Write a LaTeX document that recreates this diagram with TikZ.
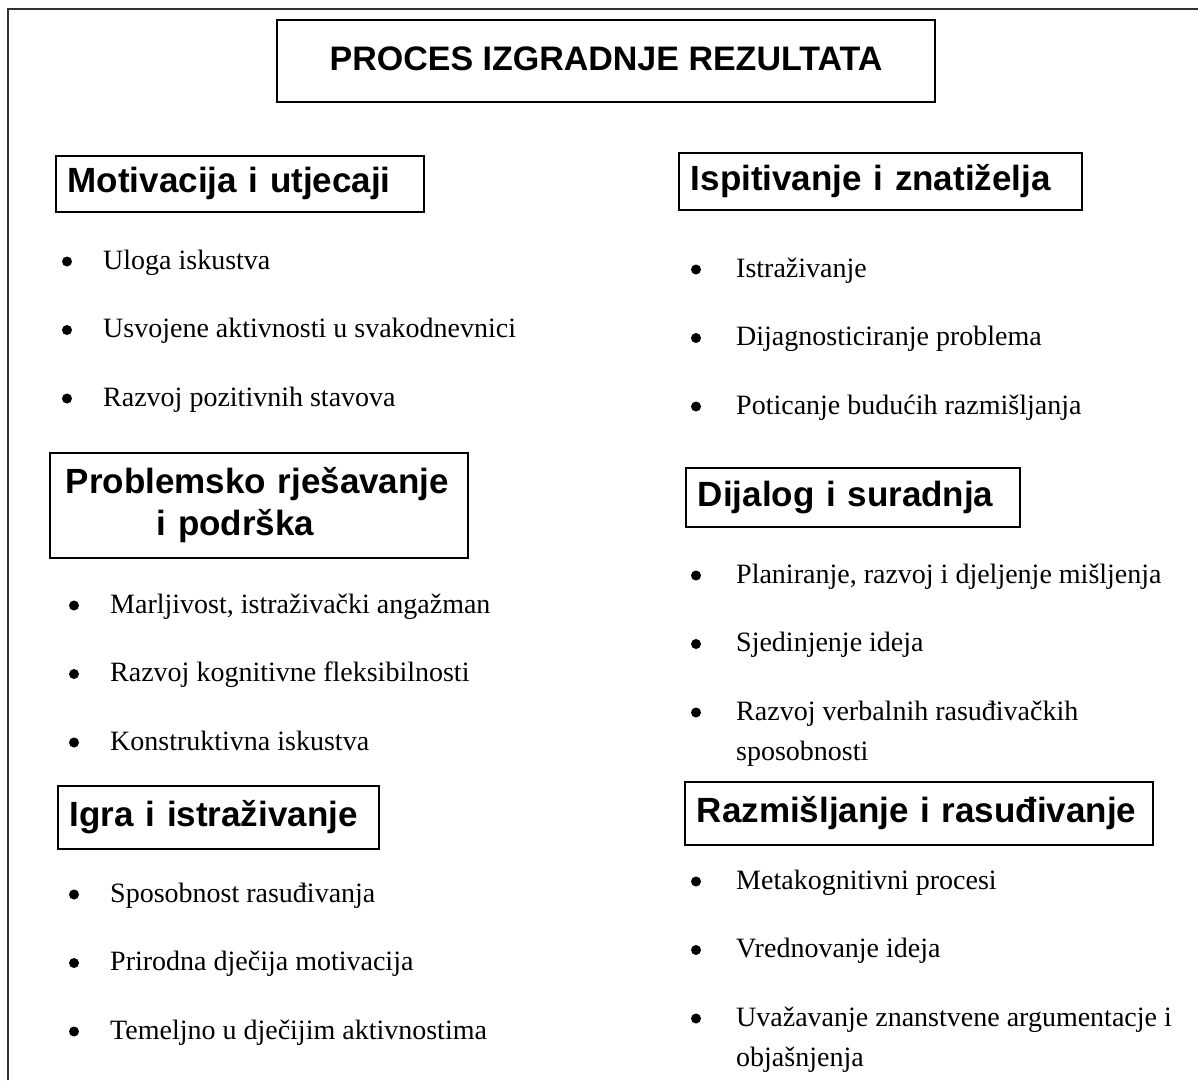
\documentclass[tikz,border=0pt]{standalone}
\usepackage{fontspec}
\setmainfont{Liberation Serif}
\setsansfont{Liberation Sans}
\usetikzlibrary{positioning}

% two lines with the baseline on the first one
\newcommand{\twolines}[2]{\vtop{\hbox{#1}\hbox{#2}}}

\tikzset{
  head/.style={draw,line width=1.6pt,anchor=north west,inner xsep=12pt,inner ysep=0pt,
    font=\sffamily\bfseries\fontsize{35}{42}\selectfont,align=left},
  onehead/.style={head,text height=25pt,text depth=7pt},
  item/.style={inner sep=0pt,font=\fontsize{28}{40}\selectfont},
  dot/.style={fill=black},
}

\begin{document}
\begin{tikzpicture}[x=1pt,y=-1pt,node distance=68.5pt]
  \useasboundingbox (0,0) rectangle (1198,1080);
  % frame, cut at the right and at the bottom
  \draw[line width=2pt,black!80] (8,1080) -- (8,9) -- (1198,9);

  \node[onehead,anchor=center,align=center,minimum width=658pt,minimum height=82pt,
    font=\sffamily\bfseries\fontsize{34}{40}\selectfont] (title) at (606,61) {PROCES IZGRADNJE REZULTATA};

  % left column
  \node[onehead,text width=344pt,minimum height=56pt] (mot) at (55,155) {Motivacija i utjecaji};
  \node[item,anchor=base west] (m1) at (103,269) {Uloga iskustva};
  \node[item,below=of m1.base west,anchor=base west] (m2) {Usvojene aktivnosti u svakodnevnici};
  \node[item,below=of m2.base west,anchor=base west] (m3) {Razvoj pozitivnih stavova};

  \node[head,inner xsep=16pt,text width=386pt,minimum height=105pt] (prob) at (49,452) {Problemsko rješavanje\\\hspace*{91pt}i podrška};
  \node[item,anchor=base west] (p1) at (110,613) {Marljivost, istraživački angažman};
  \node[item,below=of p1.base west,anchor=base west] (p2) {Razvoj kognitivne fleksibilnosti};
  \node[item,below=of p2.base west,anchor=base west] (p3) {Konstruktivna iskustva};

  \node[onehead,text width=297pt,minimum height=63pt] (igra) at (57,785) {Igra i istraživanje};
  \node[item,anchor=base west] (g1) at (110,902) {Sposobnost rasuđivanja};
  \node[item,below=of g1.base west,anchor=base west] (g2) {Prirodna dječija motivacija};
  \node[item,below=of g2.base west,anchor=base west] (g3) {Temeljno u dječijim aktivnostima};

  % right column
  \node[onehead,text width=379pt,minimum height=57pt] (isp) at (678,152) {Ispitivanje i znatiželja};
  \node[item,anchor=base west] (s1) at (736,277) {Istraživanje};
  \node[item,below=of s1.base west,anchor=base west] (s2) {Dijagnosticiranje problema};
  \node[item,below=of s2.base west,anchor=base west] (s3) {Poticanje budućih razmišljanja};

  \node[onehead,text width=310pt,minimum height=59pt] (dij) at (685,467) {Dijalog i suradnja};
  \node[item,anchor=base west] (d1) at (736,583) {Planiranje, razvoj i djeljenje mišljenja};
  \node[item,below=of d1.base west,anchor=base west] (d2) {Sjedinjenje ideja};
  \node[item,below=of d2.base west,anchor=base west] (d3) {\twolines{Razvoj verbalnih rasuđivačkih}{sposobnosti}};

  \node[onehead,text width=444pt,minimum height=63pt] (raz) at (684,781) {Razmišljanje i rasuđivanje};
  \node[item,anchor=base west] (r1) at (736,889) {Metakognitivni procesi};
  \node[item,below=of r1.base west,anchor=base west] (r2) {Vrednovanje ideja};
  \node[item,below=of r2.base west,anchor=base west] (r3) {\twolines{Uvažavanje znanstvene argumentacje i}{objašnjenja}};

  % bullets
  \foreach \n in {m1,m2,m3,p1,p2,p3,g1,g2,g3}
    \fill[dot] ([xshift=-36pt,yshift=7.5pt]\n.base west) circle (5pt);
  \foreach \n in {s1,s2,s3,d1,d2,d3,r1,r2,r3}
    \fill[dot] ([xshift=-40pt,yshift=7.5pt]\n.base west) circle (5pt);
\end{tikzpicture}
\end{document}
